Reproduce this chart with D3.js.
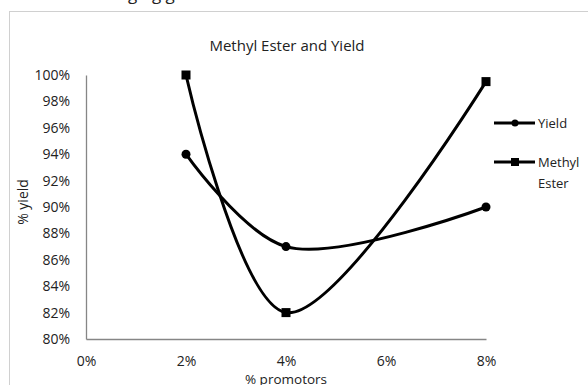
<!DOCTYPE html>
<html>
<head>
<meta charset="utf-8">
<script src="https://cdn.jsdelivr.net/npm/d3@7"></script>
<style>
  html, body { margin: 0; padding: 0; background: #fff; }
  svg { display: block; }
  text { font-family: "Open Sans", "DejaVu Sans", sans-serif; fill: #222; }
</style>
</head>
<body>
<svg id="chart" width="588" height="385"></svg>
<script>
// Promotor loadings (fraction) and the measured series
const promotors = [0.02, 0.04, 0.08];
const yieldValues = [0.94, 0.87, 0.90];
const methylEsterValues = [1.00, 0.82, 0.995];
const xTicks = [0, 0.02, 0.04, 0.06, 0.08];
const yTicks = [0.80, 0.82, 0.84, 0.86, 0.88, 0.90, 0.92, 0.94, 0.96, 0.98, 1.00];
const seriesNames = ["Yield", "Methyl Ester"];

const svg = d3.select("#chart");

// Chart frame
svg.append("rect")
  .attr("x", 9.5).attr("y", 11.5)
  .attr("width", 600).attr("height", 400)
  .attr("fill", "none").attr("stroke", "#d0d0d0");

// Caption text from the page above, clipped by the top edge
svg.append("text")
  .attr("x", 128).attr("y", 0)
  .style("font-size", "17px")
  .text("ging g");

const x = d3.scaleLinear().domain([0, 0.08]).range([86, 486]);
const y = d3.scaleLinear().domain([0.80, 1.00]).range([339, 75]);

const pct = d3.format(".0%");

// Axes: plain grey lines, no tick marks
const yAxis = svg.append("g")
  .attr("transform", `translate(${x(0)},0)`)
  .call(d3.axisLeft(y).tickValues(yTicks).tickFormat(pct).tickSize(0).tickPadding(16));
yAxis.select(".domain").attr("stroke", "#868686").attr("stroke-width", 1.3);
yAxis.selectAll("text").style("font-size", "14px").style("font-family", "\"Open Sans\", sans-serif").attr("fill", "#222");

const xAxis = svg.append("g")
  .attr("transform", `translate(0,${y(0.80)})`)
  .call(d3.axisBottom(x).tickValues(xTicks).tickFormat(pct).tickSize(0).tickPadding(17));
xAxis.select(".domain").attr("stroke", "#868686").attr("stroke-width", 1.3);
xAxis.selectAll("text").style("font-size", "14px").style("font-family", "\"Open Sans\", sans-serif").attr("fill", "#222");

// Titles
svg.append("text")
  .attr("x", 287).attr("y", 51)
  .attr("text-anchor", "middle")
  .style("font-size", "15px")
  .text("Methyl Ester and Yield");

svg.append("text")
  .attr("x", 286).attr("y", 383.5)
  .attr("text-anchor", "middle")
  .style("font-size", "13.5px")
  .text("% promotors");

svg.append("text")
  .attr("transform", "translate(28,202) rotate(-90)")
  .attr("text-anchor", "middle")
  .style("font-size", "14px")
  .text("% yield");

// Smoothed series lines
const line = d3.line()
  .x(d => x(d[0]))
  .y(d => y(d[1]))
  .curve(d3.curveCatmullRom.alpha(0.5));

const yieldData = promotors.map((p, i) => [p, yieldValues[i]]);
const esterData = promotors.map((p, i) => [p, methylEsterValues[i]]);

svg.append("path").datum(yieldData)
  .attr("d", line).attr("fill", "none")
  .attr("stroke", "#000").attr("stroke-width", 3);
svg.append("path").datum(esterData)
  .attr("d", line).attr("fill", "none")
  .attr("stroke", "#000").attr("stroke-width", 3);

// Markers
svg.selectAll(".yield-dot").data(yieldData).enter()
  .append("circle")
  .attr("cx", d => x(d[0])).attr("cy", d => y(d[1]))
  .attr("r", 4.5).attr("fill", "#000");

svg.selectAll(".ester-sq").data(esterData).enter()
  .append("rect")
  .attr("x", d => x(d[0]) - 4.5).attr("y", d => y(d[1]) - 4.5)
  .attr("width", 9).attr("height", 9).attr("fill", "#000");

// Legend
const legend = svg.append("g");
const legendRows = [
  { name: seriesNames[0], ly: 123, marker: "circle" },
  { name: seriesNames[1], ly: 162, marker: "square" }
];
legendRows.forEach(r => {
  legend.append("line")
    .attr("x1", 494).attr("x2", 535)
    .attr("y1", r.ly).attr("y2", r.ly)
    .attr("stroke", "#000").attr("stroke-width", 3);
  if (r.marker === "circle") {
    legend.append("circle").attr("cx", 515).attr("cy", r.ly).attr("r", 3.5).attr("fill", "#000");
  } else {
    legend.append("rect").attr("x", 511).attr("y", r.ly - 4).attr("width", 8).attr("height", 8).attr("fill", "#000");
  }
  const words = r.name.split(" ");
  const t = legend.append("text")
    .attr("x", 538).attr("y", r.ly + 5)
    .style("font-size", "13px");
  words.forEach((w, i) => {
    t.append("tspan").attr("x", 538).attr("dy", i === 0 ? 0 : 21).text(w);
  });
});
</script>
</body>
</html>
